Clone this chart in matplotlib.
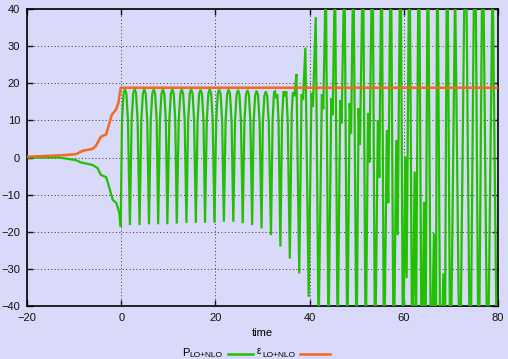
import numpy as np
import matplotlib
matplotlib.use("Agg")
import matplotlib.pyplot as plt
from matplotlib.lines import Line2D

plt.rcParams["font.family"] = ["Liberation Sans", "DejaVu Sans"]

# ---- data -------------------------------------------------------------
# build-up before the switch-on at t = 0
ramp_t = [-20.0, -13.3, -9.6, -8.6, -6.1, -5.0, -4.3, -3.2, -2.9, -1.8, -1.0, -0.4, -0.1]
ramp_p = [0.0, 0.0, -0.7, -1.3, -2.0, -2.9, -4.7, -5.3, -6.5, -11.4, -12.3, -15.0, -18.6]

# epsilon_{LO+NLO}
eps_t = [-20.0, -12.5, -9.6, -8.2, -6.1, -5.4, -4.3, -3.2, -2.0, -1.1, -0.6, -0.1, 80.0]
eps_v = [0.2, 0.6, 0.9, 1.8, 2.3, 3.1, 5.6, 6.2, 11.5, 12.9, 14.7, 18.8, 18.8]

# steady oscillation of P_{LO+NLO}: crests and troughs
crest_t = [0.8, 2.85, 4.9, 6.9, 8.85, 10.85, 12.85, 14.85, 16.85, 18.8,
           20.8, 22.8, 24.8, 26.8, 28.75, 30.7]
crest_v = [18.4, 18.5, 18.4, 18.4, 18.4, 18.4, 18.4, 18.4, 18.3, 18.4,
           18.3, 18.3, 18.2, 18.2, 18.0, 17.8]
trough_t = [1.85, 3.9, 5.9, 7.85, 9.8, 11.8, 13.85, 15.85, 17.8, 19.8,
            21.8, 23.8, 25.8, 27.8, 29.8, 31.8]
trough_v = [-18.2, -18.2, -18.0, -18.0, -18.0, -17.8, -17.6, -17.6, -17.6, -17.6,
            -17.3, -17.3, -17.7, -18.2, -19.1, -20.9]

# irregular, growing part of P_{LO+NLO}
late_t = [32.15, 32.45, 32.65, 32.9, 33.15, 33.4, 33.8,
          34.15, 34.45, 34.7, 34.9, 35.05, 35.35, 35.8,
          36.2, 36.45, 36.8, 37.2, 37.8,
          38.3, 38.6, 39.1, 39.8,
          40.4, 40.7, 41.3, 41.9,
          42.6, 42.9, 43.45, 44.0,
          44.6, 44.9, 45.4, 45.95,
          46.5, 46.8, 47.4, 48.0,
          48.5, 48.8, 49.3, 49.95,
          50.4, 50.7, 51.35, 51.9,
          52.4, 52.7, 53.35, 53.9,
          54.5, 54.8, 55.3, 55.8,
          56.4, 56.7, 57.25, 57.85,
          58.4, 58.7, 59.3, 59.85,
          60.3, 60.6, 61.2, 61.8,
          62.3, 62.6, 63.2, 63.8,
          64.3, 64.6, 65.1, 65.8,
          66.4, 66.8, 67.1, 67.8,
          68.4, 68.7, 69.2, 69.9,
          70.9, 71.9, 73.1, 74.1, 75.1, 75.9, 76.75, 77.8, 78.85, 79.8]
late_p = [10.0, 17.6, 17.8, 16.0, 17.0, 10.0, -24.0,
          10.0, 17.8, 17.4, 16.5, 17.8, 10.0, -27.2,
          12.0, 17.6, 16.5, 22.5, -31.2,
          17.0, 15.5, 29.6, -37.5,
          17.4, 13.6, 37.8, -48.0,
          17.0, 13.0, 50.0, -50.0,
          16.0, 11.4, 52.0, -52.0,
          15.5, 9.2, 54.0, -54.0,
          14.6, 6.5, 55.0, -55.0,
          13.3, 3.4, 58.0, -56.0,
          12.0, -1.3, 62.0, -58.0,
          10.1, -5.5, 62.0, -60.0,
          7.4, -12.3, 62.0, -60.0,
          4.7, -20.9, 64.0, -62.0,
          0.2, -32.5, 65.0, -62.0,
          -3.8, -46.0, 70.0, -64.0,
          -11.9, -56.0, 66.0, -64.0,
          -20.4, -60.0, 68.0, -66.0,
          -31.2, -62.0, 70.0, -66.0,
          46.0, -66.0, 72.0, -68.0, 75.0, -66.0, 66.0, -66.0, 50.0, -60.0]

# rounded crest outline (offset from crest time, drop below crest value)
crest_dt = [-0.63, -0.3, 0.0, 0.3, 0.63]
crest_drop = [8.4, 1.2, 0.0, 1.2, 8.4]

# ---- assemble P curve ---------------------------------------------------
pt = list(ramp_t)
pv = list(ramp_p)
for tc, vc, tt, vt in zip(crest_t, crest_v, trough_t, trough_v):
    pt += [tc + d for d in crest_dt]
    pv += [vc - d for d in crest_drop]
    pt.append(tt)
    pv.append(vt)
pt += late_t
pv += late_p

# ---- figure -------------------------------------------------------------
W, H = 508, 359
bg = "#d9d9f9"
fig = plt.figure(figsize=(W / 100, H / 100), dpi=100, facecolor=bg)
ax = fig.add_axes([27 / W, 1 - 306 / H, (498 - 27) / W, (306 - 9) / H])
ax.set_facecolor(bg)

green = "#22c000"
orange = "#f06a22"

ax.plot(pt, pv, color=green, lw=1.6, solid_joinstyle="miter", zorder=3)
ax.plot(eps_t, eps_v, color=orange, lw=1.8, zorder=4)

ax.set_xlim(-20, 80)
ax.set_ylim(-40, 40)
ax.set_xticks(range(-20, 81, 20))
ax.set_yticks(range(-40, 41, 10))
ax.grid(True, color="#333333", lw=0.7, linestyle=(0, (1, 2.5)))
ax.set_axisbelow(True)

ax.tick_params(direction="in", length=4, width=1, top=True, right=True,
               labelsize=8, colors="#111111", pad=5)
for s in ax.spines.values():
    s.set_linewidth(1.2)
    s.set_color("black")

ax.set_xlabel("time", fontsize=8, labelpad=4)

# legend row along the bottom edge
def fx(x):
    return x / W

def fy(y):
    return 1 - y / H

fig.text(fx(182), fy(357.8), "P", fontsize=8, va="bottom", ha="left")
fig.text(fx(189), fy(358.8), "LO+NLO", fontsize=6, va="bottom", ha="left")
fig.add_artist(Line2D([fx(228), fx(253)], [fy(353.7), fy(353.7)], color=green, lw=1.8))
fig.text(fx(256.5), fy(355.5), "ε", fontsize=7, va="bottom", ha="left")
fig.text(fx(262), fy(358.8), "LO+NLO", fontsize=6, va="bottom", ha="left")
fig.add_artist(Line2D([fx(300), fx(330)], [fy(353.7), fy(353.7)], color=orange, lw=1.8))

fig.savefig("out.png", dpi=100, facecolor=bg)
